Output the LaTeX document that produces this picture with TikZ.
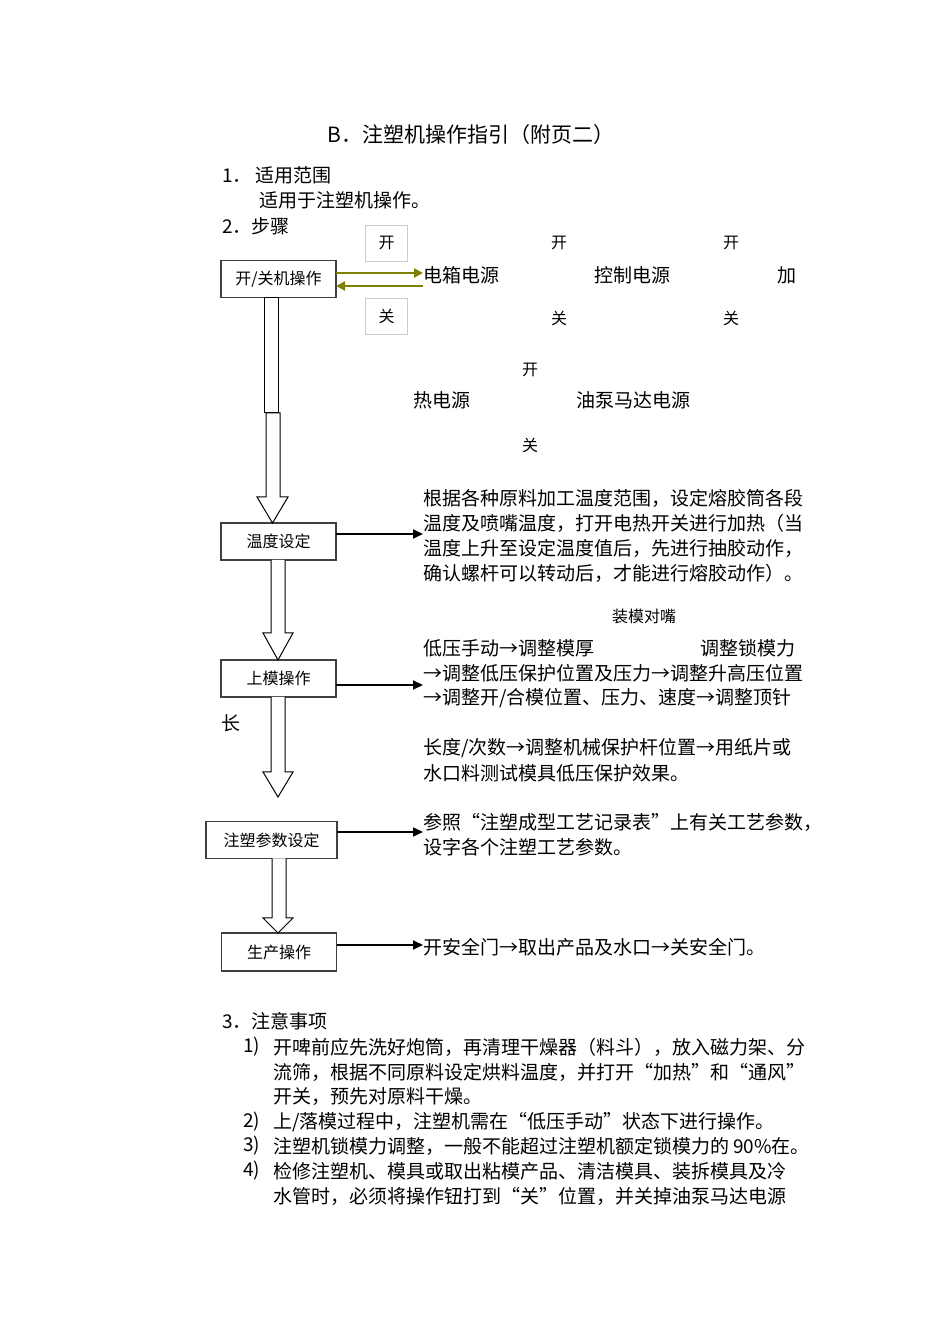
\documentclass[tikz,border=0pt]{standalone}
\usepackage{fontspec}
\setmainfont{Noto Sans CJK SC}
\usetikzlibrary{arrows.meta,calc}

\tikzset{
  stepbox/.style={draw=boxColor, line width=1.3pt, inner sep=0pt, outer sep=0pt,
    minimum width=115pt, minimum height=37pt, font=\fontsize{16}{16}\selectfont},
  switchbox/.style={draw=switchColor, line width=0.8pt, inner sep=0pt, outer sep=0pt,
    minimum width=42pt, minimum height=36pt, font=\fontsize{16}{16}\selectfont},
  lbl/.style={anchor=west, inner sep=0pt, outer sep=0pt, font=\fontsize{19}{19}\selectfont},
  small/.style={inner sep=0pt, outer sep=0pt, font=\fontsize{16}{16}\selectfont},
  feed/.style={draw=oliveColor, line width=2.4pt, -{Triangle[length=9pt,width=9pt]}},
  link/.style={draw=black, line width=1.8pt, -{Triangle[length=10pt,width=9pt]}},
  hollow/.style={draw=black, line width=1pt, fill=white, line join=miter},
}

\begin{document}
\begin{tikzpicture}[x=1pt,y=1pt]
\definecolor{fillColor}{RGB}{255,255,255}
\path[use as bounding box,fill=fillColor] (0,0) rectangle (950,1344);
\definecolor{boxColor}{gray}{0.25}
\definecolor{switchColor}{gray}{0.80}
\definecolor{oliveColor}{RGB}{128,128,0}

% heading
\node[inner sep=0pt, outer sep=0pt, font=\fontsize{21}{21}\selectfont] (title) at (471,1209) {B．注塑机操作指引（附页二）};
\node[lbl] (scopehead) at (222,1169) {1．\hspace{4pt}适用范围};
\node[lbl] (scopetext) at (259,1144) {适用于注塑机操作。};
\node[lbl] (stephead) at (222,1118) {2．步骤};

% switches
\node[switchbox] (onbox) at (386.5,1101) {开};
\node[switchbox] (offbox) at (386.5,1027.5) {关};
\node[small] (ctrlon) at (559,1101) {开};
\node[small] (ctrloff) at (559,1026) {关};
\node[small] (heaton) at (731,1101) {开};
\node[small] (heatoff) at (731,1026) {关};
\node[small] (pumpon) at (530,974) {开};
\node[small] (pumpoff) at (530,899) {关};

\node[stepbox] (onoff) at (278.5,1065) {开/关机操作};
\node[lbl] (mainpower) at (423,1069) {电箱电源};
\node[lbl] (ctrlpower) at (594,1069) {控制电源};
\node[lbl] (heatpowera) at (777,1069) {加};
\node[lbl] (heatpowerb) at (413,944) {热电源};
\node[lbl] (pumppower) at (576,944) {油泵马达电源};

\draw[feed] ([yshift=6pt]onoff.east) -- ([yshift=2pt]mainpower.west);
\draw[feed] ([yshift=-11pt]mainpower.west) -- ([yshift=-7pt]onoff.east);

% temperature
\node[stepbox] (temp) at (278.5,802.5) {温度设定};
\node[lbl] (tempnotea) at (423,846) {根据各种原料加工温度范围，设定熔胶筒各段};
\node[lbl] (tempnoteb) at (423,821) {温度及喷嘴温度，打开电热开关进行加热（当};
\node[lbl] (tempnotec) at (423,796) {温度上升至设定温度值后，先进行抽胶动作，};
\node[lbl] (tempnoted) at (423,771) {确认螺杆可以转动后，才能进行熔胶动作）。};
\draw[link] ([yshift=7.5pt]temp.east) -- ([yshift=-11pt]tempnoteb.west);

% mould
\node[stepbox] (mold) at (278.5,665.5) {上模操作};
\node[small, anchor=west] (moldtop) at (612,728) {装模对嘴};
\node[lbl] (moldnotea) at (423,696) {低压手动→调整模厚};
\node[lbl] (moldnoteb) at (700,696) {调整锁模力};
\node[lbl] (moldnotec) at (423,671) {→调整低压保护位置及压力→调整升高压位置};
\node[lbl] (moldnoted) at (423,646) {→调整开/合模位置、压力、速度→调整顶针};
\node[lbl] (moldlong) at (221,621) {长};
\node[lbl] (moldnotee) at (423,596) {长度/次数→调整机械保护杆位置→用纸片或};
\node[lbl] (moldnotef) at (423,571) {水口料测试模具低压保护效果。};
\draw[link] ([yshift=-6.5pt]mold.east) -- ([yshift=-12pt]moldnotec.west);

% parameters
\node[stepbox, minimum width=131pt] (param) at (271.5,504) {注塑参数设定};
\node[lbl] (paramnotea) at (423,522) {参照“注塑成型工艺记录表”上有关工艺参数，};
\node[lbl] (paramnoteb) at (423,497) {设字各个注塑工艺参数。};
\draw[link] ([yshift=8pt]param.east) -- ([yshift=-10pt]paramnotea.west);

% production
\node[stepbox, minimum height=38pt] (prod) at (279,392) {生产操作};
\node[lbl] (prodnote) at (423,397) {开安全门→取出产品及水口→关安全门。};
\draw[link] ([yshift=7pt]prod.east) -- ([yshift=2pt]prodnote.west);

% hollow arrows
\path[hollow] let \p1=(onoff.south) in (264,\y1) rectangle (278,931);
\path[hollow] let \p1=(temp.north) in (266,931) -- (266,\y1+26) -- (257,\y1+26)
  -- (272.5,\y1) -- (288,\y1+26) -- (280,\y1+26) -- (280,931) -- cycle;
\path[hollow] let \p1=(temp.south), \p2=(mold.north) in (271,\y1) -- (271,\y2+27)
  -- (263,\y2+27) -- (278,\y2) -- (293,\y2+27) -- (285,\y2+27) -- (285,\y1);
\coordinate (moldend) at (278,547);
\path[hollow] let \p1=(mold.south), \p2=(moldend) in (271,\y1) -- (271,\y2+25)
  -- (263,\y2+25) -- (278,\y2) -- (293,\y2+25) -- (285,\y2+25) -- (285,\y1);
\path[hollow] let \p1=(param.south), \p2=(prod.north) in (272,\y1) -- (272,\y2+15)
  -- (263,\y2+15) -- (278,\y2) -- (293,\y2+15) -- (286,\y2+15) -- (286,\y1);

% notes
\node[lbl] (notehead) at (222,323) {3．注意事项};
\node[lbl] (noteanum) at (243,297) {1)};
\node[lbl] (notea) at (273,297) {开啤前应先洗好炮筒，再清理干燥器（料斗），放入磁力架、分};
\node[lbl] (noteb) at (273,272) {流筛，根据不同原料设定烘料温度，并打开“加热”和“通风”};
\node[lbl] (notec) at (273,247) {开关，预先对原料干燥。};
\node[lbl] (notebnum) at (243,222) {2)};
\node[lbl] (noted) at (273,222) {上/落模过程中，注塑机需在“低压手动”状态下进行操作。};
\node[lbl] (notecnum) at (243,198) {3)};
\node[lbl] (notee) at (273,198) {注塑机锁模力调整，一般不能超过注塑机额定锁模力的 90\%在。};
\node[lbl] (notednum) at (243,173) {4)};
\node[lbl] (notef) at (273,173) {检修注塑机、模具或取出粘模产品、清洁模具、装拆模具及冷};
\node[lbl] (noteg) at (273,148) {水管时，必须将操作钮打到“关”位置，并关掉油泵马达电源};
\end{tikzpicture}
\end{document}
